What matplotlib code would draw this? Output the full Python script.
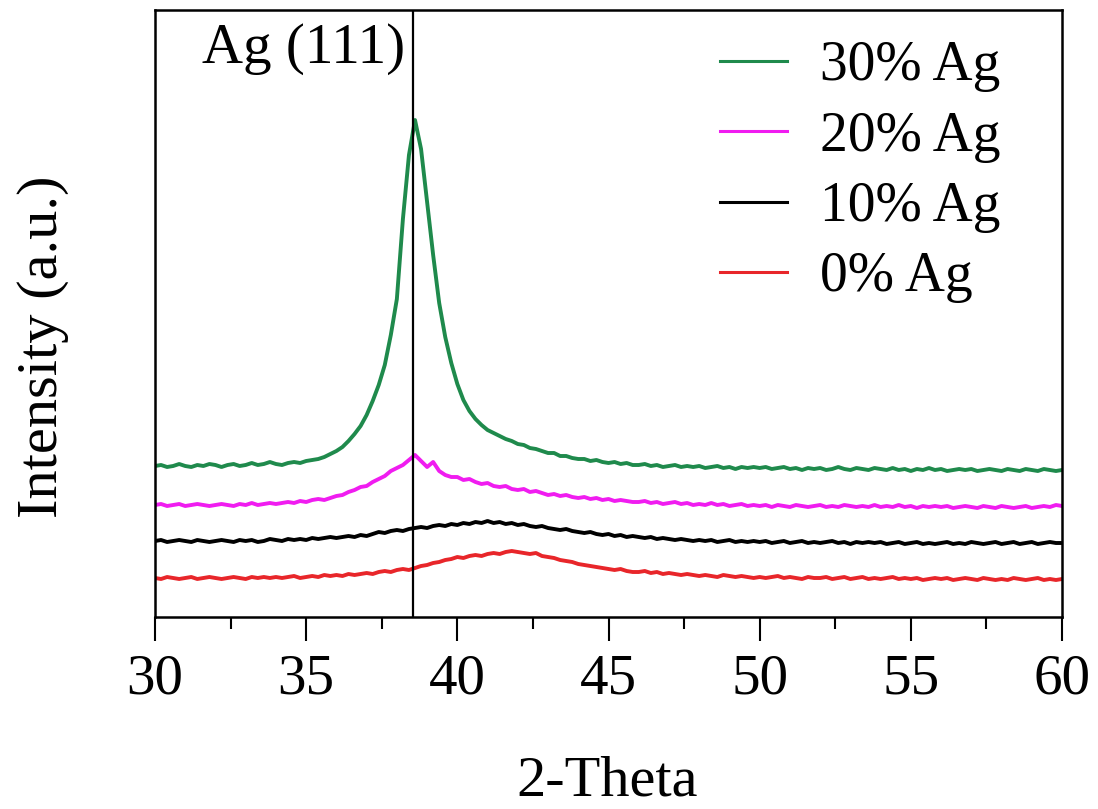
# XRD patterns of the Ag doped films, 30-60 deg

import numpy as np
import matplotlib.pyplot as plt

# 2-theta grid, 0.2 deg step
two_theta = np.round(np.arange(30.0, 60.0001, 0.2), 1)

# intensities (a.u., offsets included)
ag30 = [151, 152, 150, 151, 153, 151, 150, 152, 151, 153,
        152, 150, 152, 153, 151, 152, 154, 152, 153, 155,
        153, 152, 154, 155, 154, 156, 157, 158, 160, 163,
        166, 170, 176, 183, 191, 202, 216, 232, 252, 282,
        318, 398, 462, 497, 468, 415, 362, 314, 280, 254,
        233, 217, 206, 198, 192, 187, 184, 181, 178, 176,
        173, 172, 169, 168, 166, 164, 164, 161, 161, 159,
        158, 158, 156, 157, 155, 154, 155, 153, 154, 152,
        152, 153, 151, 152, 150, 151, 152, 150, 151, 150,
        151, 149, 150, 151, 149, 150, 148, 150, 149, 150,
        149, 150, 148, 149, 150, 148, 149, 147, 149, 148,
        149, 147, 148, 150, 148, 147, 149, 148, 147, 149,
        148, 147, 149, 147, 148, 146, 148, 147, 149, 147,
        148, 146, 147, 148, 147, 148, 146, 147, 148, 147,
        146, 148, 147, 146, 148, 147, 146, 148, 147, 146,
        147]
ag20 = [112, 113, 111, 112, 113, 111, 112, 113, 112, 111,
        112, 113, 112, 111, 113, 112, 114, 112, 113, 114,
        113, 114, 115, 114, 116, 115, 117, 118, 117, 119,
        121, 122, 125, 127, 130, 131, 135, 138, 141, 146,
        149, 152, 157, 162, 156, 150, 155, 146, 142, 140,
        140, 137, 138, 135, 133, 134, 131, 130, 131, 128,
        127, 128, 125, 126, 124, 122, 123, 121, 122, 120,
        119, 120, 118, 119, 117, 118, 116, 117, 116, 115,
        115, 116, 114, 115, 113, 114, 115, 113, 114, 112,
        113, 112, 114, 112, 113, 111, 112, 113, 111, 112,
        111, 112, 110, 112, 111, 110, 112, 111, 110, 111,
        112, 110, 111, 110, 112, 111, 110, 111, 110, 112,
        110, 111, 110, 112, 110, 111, 109, 111, 110, 111,
        110, 111, 109, 110, 111, 110, 109, 111, 110, 109,
        111, 110, 109, 110, 111, 109, 110, 111, 110, 112,
        111]
ag10 = [76, 77, 75, 76, 77, 76, 75, 77, 76, 75,
        76, 77, 76, 75, 77, 76, 77, 75, 76, 78,
        77, 76, 78, 77, 78, 77, 79, 78, 79, 80,
        79, 80, 81, 80, 82, 81, 83, 85, 84, 86,
        87, 86, 88, 89, 90, 89, 91, 92, 91, 93,
        92, 94, 93, 95, 94, 96, 94, 95, 93, 94,
        92, 93, 91, 90, 91, 89, 88, 87, 88, 86,
        85, 84, 85, 83, 82, 83, 81, 82, 80, 81,
        80, 79, 80, 78, 79, 78, 77, 78, 77, 76,
        77, 76, 77, 75, 76, 77, 75, 76, 75, 76,
        75, 76, 74, 75, 76, 74, 75, 76, 74, 75,
        74, 75, 76, 74, 75, 73, 75, 74, 75, 74,
        75, 73, 74, 75, 73, 74, 75, 73, 74, 73,
        74, 75, 73, 74, 73, 75, 74, 73, 74, 75,
        73, 74, 75, 73, 74, 75, 73, 74, 75, 74,
        74]
ag0 = [39, 38, 40, 39, 38, 39, 40, 38, 39, 40,
       39, 38, 39, 40, 39, 38, 40, 39, 40, 39,
       40, 39, 40, 41, 39, 40, 41, 40, 42, 41,
       42, 41, 43, 42, 43, 44, 43, 45, 46, 45,
       47, 48, 47, 49, 51, 52, 54, 55, 57, 58,
       60, 59, 61, 62, 61, 63, 64, 63, 65, 66,
       65, 64, 63, 64, 61, 60, 59, 57, 56, 55,
       53, 52, 51, 50, 49, 48, 47, 48, 46, 45,
       45, 46, 44, 45, 43, 44, 43, 42, 43, 42,
       41, 42, 41, 40, 42, 41, 40, 41, 40, 39,
       40, 39, 40, 41, 39, 40, 39, 38, 40, 39,
       39, 40, 38, 39, 40, 38, 39, 40, 38, 39,
       38, 39, 40, 38, 39, 38, 39, 37, 38, 39,
       38, 39, 37, 38, 39, 38, 37, 39, 38, 37,
       38, 37, 39, 38, 37, 38, 39, 37, 38, 37,
       38]

labels = ["30% Ag", "20% Ag", "10% Ag", "0% Ag"]
ag111 = 38.55

plt.rcParams['font.family'] = 'Liberation Serif'

fig = plt.figure(figsize=(10.98, 8.09), dpi=100)
ax = fig.add_axes([155/1098, 1-617/809, 907/1098, 607/809])

l0, = ax.plot(two_theta, ag0, color="#e8262a", lw=2.8)
l10, = ax.plot(two_theta, ag10, color="black", lw=2.8)
l20, = ax.plot(two_theta, ag20, color="#f01cf0", lw=2.8)
l30, = ax.plot(two_theta, ag30, color="#1f8a4c", lw=2.8)

ax.axvline(ag111, color="black", lw=1.6)
ax.text(38.27, 0.9127, "Ag (111)", transform=ax.get_xaxis_transform(),
        ha="right", va="baseline", fontsize=41)

leg = ax.legend([l30, l20, l10, l0], labels, loc="upper left",
                bbox_to_anchor=(0.623, 0.95), frameon=False, fontsize=40,
                handlelength=1.2, handletextpad=0.6, labelspacing=0.33,
                borderpad=0, borderaxespad=0)
for h in leg.get_lines():
    h.set_linewidth(2.2)

ax.set_xlim(30, 60)
ax.set_ylim(0, 607)
ax.set_xticks(np.arange(30, 61, 5))
ax.set_xticks(np.arange(32.5, 60, 5), minor=True)
ax.set_yticks([])
ax.tick_params(axis='x', which='major', length=17.3, width=1.5, pad=9, labelsize=41)
ax.tick_params(axis='x', which='minor', length=8.6, width=1.5)
for s in ax.spines.values():
    s.set_linewidth(1.8)

fig.text(607/1098, 1-795/809, "2-Theta", ha="center", va="baseline", fontsize=42)
fig.text(43/1098, 1-347/809, "Intensity (a.u.)", rotation=90,
         ha="center", va="center", fontsize=42)

plt.savefig("out.png", dpi=100)
